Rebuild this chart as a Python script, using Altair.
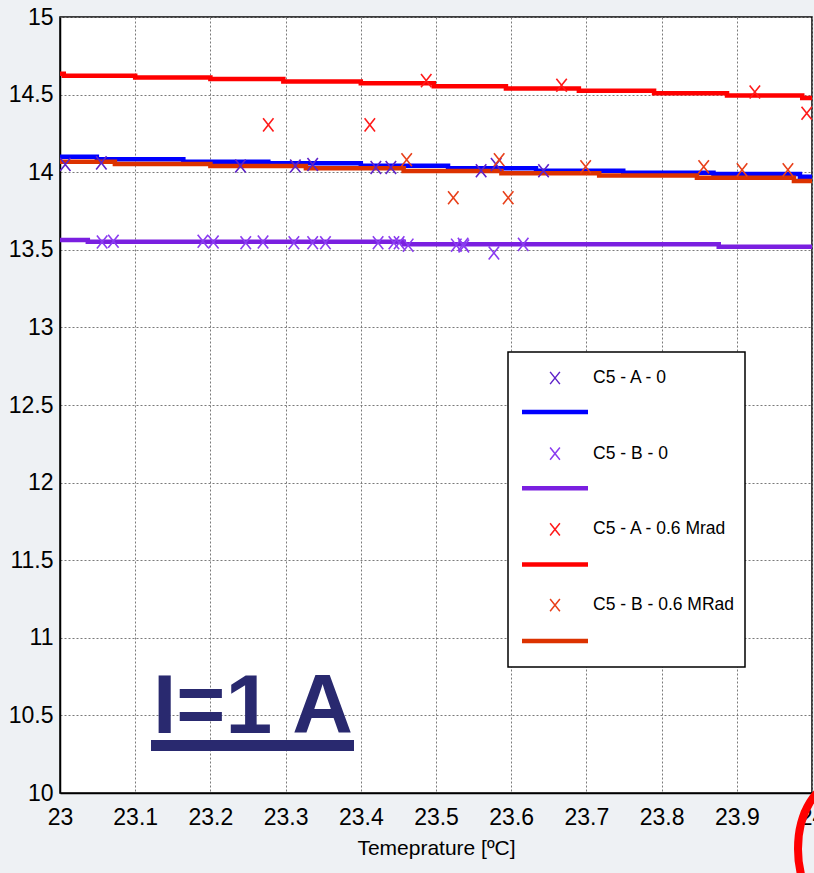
import altair as alt
import pandas as pd

# ---------------- data ----------------
series_names = ["C5 - A - 0", "C5 - B - 0", "C5 - A - 0.6 Mrad", "C5 - B - 0.6 MRad"]
line_colors = ["#0000ff", "#7a1fe0", "#ff0000", "#dc3200"]
marker_colors = ["#5e22c8", "#8a3cf0", "#ff1a1a", "#e8401a"]

# step (fit) lines: x where a new level starts, and that level
a0_x = [23.0, 23.049, 23.164, 23.277, 23.4, 23.516, 23.633, 23.749, 23.869, 23.984, 24.0]
a0_y = [14.100, 14.083, 14.068, 14.057, 14.042, 14.025, 14.010, 13.997, 13.988, 13.970, 13.970]
b0_x = [23.0, 23.037, 23.457, 23.876, 24.0]
b0_y = [13.563, 13.552, 13.535, 13.520, 13.520]
a06_x = [23.0, 23.005, 23.1, 23.2, 23.297, 23.4, 23.497, 23.593, 23.69, 23.79, 23.887, 23.987, 24.0]
a06_y = [14.635, 14.622, 14.610, 14.600, 14.585, 14.573, 14.553, 14.540, 14.525, 14.508, 14.495, 14.478, 14.478]
b06_x = [23.0, 23.073, 23.2, 23.327, 23.457, 23.587, 23.717, 23.847, 23.976, 24.0]
b06_y = [14.068, 14.053, 14.040, 14.025, 14.008, 13.993, 13.978, 13.965, 13.943, 13.943]

# measured points (x markers)
a0_px = [23.007, 23.055, 23.24, 23.313, 23.336, 23.42, 23.44, 23.56, 23.58, 23.643]
a0_py = [14.05, 14.06, 14.04, 14.04, 14.05, 14.03, 14.03, 14.01, 14.05, 14.01]
b0_px = [23.056, 23.071, 23.19, 23.204, 23.247, 23.27, 23.311, 23.336, 23.353, 23.423,
         23.444, 23.451, 23.463, 23.527, 23.536, 23.537, 23.577, 23.616]
b0_py = [13.55, 13.555, 13.555, 13.55, 13.545, 13.55, 13.545, 13.545, 13.545, 13.545,
         13.545, 13.545, 13.53, 13.53, 13.535, 13.525, 13.48, 13.535]
a06_px = [23.277, 23.412, 23.487, 23.667, 23.924, 23.993]
a06_py = [14.305, 14.305, 14.59, 14.56, 14.517, 14.38]
b06_px = [23.461, 23.523, 23.584, 23.596, 23.699, 23.856, 23.907, 23.968]
b06_py = [14.08, 13.835, 14.08, 13.835, 14.035, 14.035, 14.015, 14.015]

x_ticks = [23, 23.1, 23.2, 23.3, 23.4, 23.5, 23.6, 23.7, 23.8, 23.9, 24]
y_ticks = [10, 10.5, 11, 11.5, 12, 12.5, 13, 13.5, 14, 14.5, 15]

# ---------------- layout ----------------
W, H = 752, 776
X0, X1 = 23.0, 24.0
Y0, Y1 = 10.0, 15.0
FONT = "Liberation Sans, Arial, sans-serif"


def xv(px):  # pixel inside plot -> data x
    return X0 + (X1 - X0) * px / W


def yv(py):  # pixel inside plot -> data y
    return Y1 - (Y1 - Y0) * py / H


lines = pd.concat([
    pd.DataFrame({"x": xs, "y": ys, "series": name, "o": range(len(xs))})
    for name, xs, ys in [(series_names[0], a0_x, a0_y), (series_names[1], b0_x, b0_y),
                         (series_names[2], a06_x, a06_y), (series_names[3], b06_x, b06_y)]
])
points = pd.concat([
    pd.DataFrame({"x": xs, "y": ys, "mseries": name})
    for name, xs, ys in [(series_names[0], a0_px, a0_py), (series_names[1], b0_px, b0_py),
                         (series_names[2], a06_px, a06_py), (series_names[3], b06_px, b06_py)]
])

XMARK = "M-0.8,-1L0.8,1M0.8,-1L-0.8,1"

xs = alt.Scale(domain=[X0, X1], nice=False, zero=False)
ys = alt.Scale(domain=[Y0, Y1], nice=False, zero=False)

x_enc = alt.X("x:Q", scale=xs, title="Temeprature [ºC]",
              axis=alt.Axis(values=x_ticks, format="~g"))
y_enc = alt.Y("y:Q", scale=ys, title=None,
              axis=alt.Axis(values=y_ticks, format="~g"))

line_layer = alt.Chart(lines).mark_line(interpolate="step-after", strokeWidth=4.5, clip=True).encode(
    x=x_enc, y=y_enc,
    color=alt.Color("series:N", scale=alt.Scale(domain=series_names, range=line_colors), legend=None),
    order="o:Q",
)

point_layer = alt.Chart(points).mark_point(shape=XMARK, filled=False, size=170, strokeWidth=1.6,
                                           opacity=1, clip=True).encode(
    x="x:Q", y="y:Q",
    stroke=alt.Stroke("mseries:N", scale=alt.Scale(domain=series_names, range=marker_colors), legend=None),
)

# ---------------- manual legend (inside the plot) ----------------
leg = pd.DataFrame({"label": series_names, "i": range(4)})
leg["my"] = [yv(361 + 75.7 * i) for i in leg["i"]]
leg["ly"] = [yv(395 + 76.3 * i) for i in leg["i"]]
leg["mx"] = xv(495)
leg["lx1"] = xv(462)
leg["lx2"] = xv(528)
leg["tx"] = xv(533)

box = pd.DataFrame({"bx1": [xv(448)], "bx2": [xv(685)], "by1": [yv(335)], "by2": [yv(650)]})
box_layer = alt.Chart(box).mark_rect(fill="white", stroke="black", strokeWidth=1.5).encode(
    x="bx1:Q", x2="bx2:Q", y="by1:Q", y2="by2:Q")

leg_lines = alt.Chart(leg).mark_rule(strokeWidth=4.5).encode(
    x="lx1:Q", x2="lx2:Q", y="ly:Q",
    color=alt.Color("label:N", scale=alt.Scale(domain=series_names, range=line_colors), legend=None))
leg_marks = alt.Chart(leg).mark_point(shape=XMARK, filled=False, size=150, strokeWidth=1.5, opacity=1).encode(
    x="mx:Q", y="my:Q",
    stroke=alt.Stroke("label:N", scale=alt.Scale(domain=series_names, range=marker_colors), legend=None))
leg_text = alt.Chart(leg).mark_text(align="left", baseline="middle", font=FONT, fontSize=17.5,
                                    color="black").encode(x="tx:Q", y="my:Q", text="label:N")

# ---------------- annotation "I=1 A" ----------------
ann = pd.DataFrame({"t": ["I=1 A"]})
ann_text = alt.Chart(ann).mark_text(align="left", baseline="alphabetic", font=FONT,
                                    fontWeight="bold", fontSize=84, color="#29296f").encode(
    x=alt.value(93), y=alt.value(716), text="t:N")
ann_line = alt.Chart(ann).mark_rule(strokeWidth=11, color="#29296f").encode(
    x=alt.value(91), x2=alt.value(294), y=alt.value(728.5))

# red ellipse partially visible in the lower right corner
ell = alt.Chart(ann).mark_point(shape="M0,-1A0.62,1 0 1,1 0,1A0.62,1 0 1,1 0,-1Z", filled=False,
                                size=17500, stroke="#ff0000", strokeWidth=8, opacity=1).encode(
    x=alt.value(779), y=alt.value(832))

chart = alt.layer(line_layer, point_layer, box_layer, leg_lines, leg_marks, leg_text,
                  ann_line, ann_text, ell).properties(
    width=W, height=H,
    padding={"left": 60, "top": 17, "right": 2, "bottom": 80},
    autosize=alt.AutoSizeParams(type="none"),
    background="#eef1f4",
).configure_view(
    stroke="black", strokeWidth=1.5, fill="white"
).configure_axis(
    grid=True, gridColor="#7a7a7a", gridDash=[2, 2], gridWidth=1,
    domainColor="black", domainWidth=1.5, ticks=False,
    labelFont=FONT, labelFontSize=23, labelColor="black", labelFlush=False,
    titleFont=FONT, titleFontSize=21, titleFontWeight="normal", titleColor="black",
).configure_axisX(
    labelPadding=13, titlePadding=8,
).configure_axisY(
    labelPadding=7,
)

chart.save("out.html", embed_options={"renderer": "svg", "actions": False})
